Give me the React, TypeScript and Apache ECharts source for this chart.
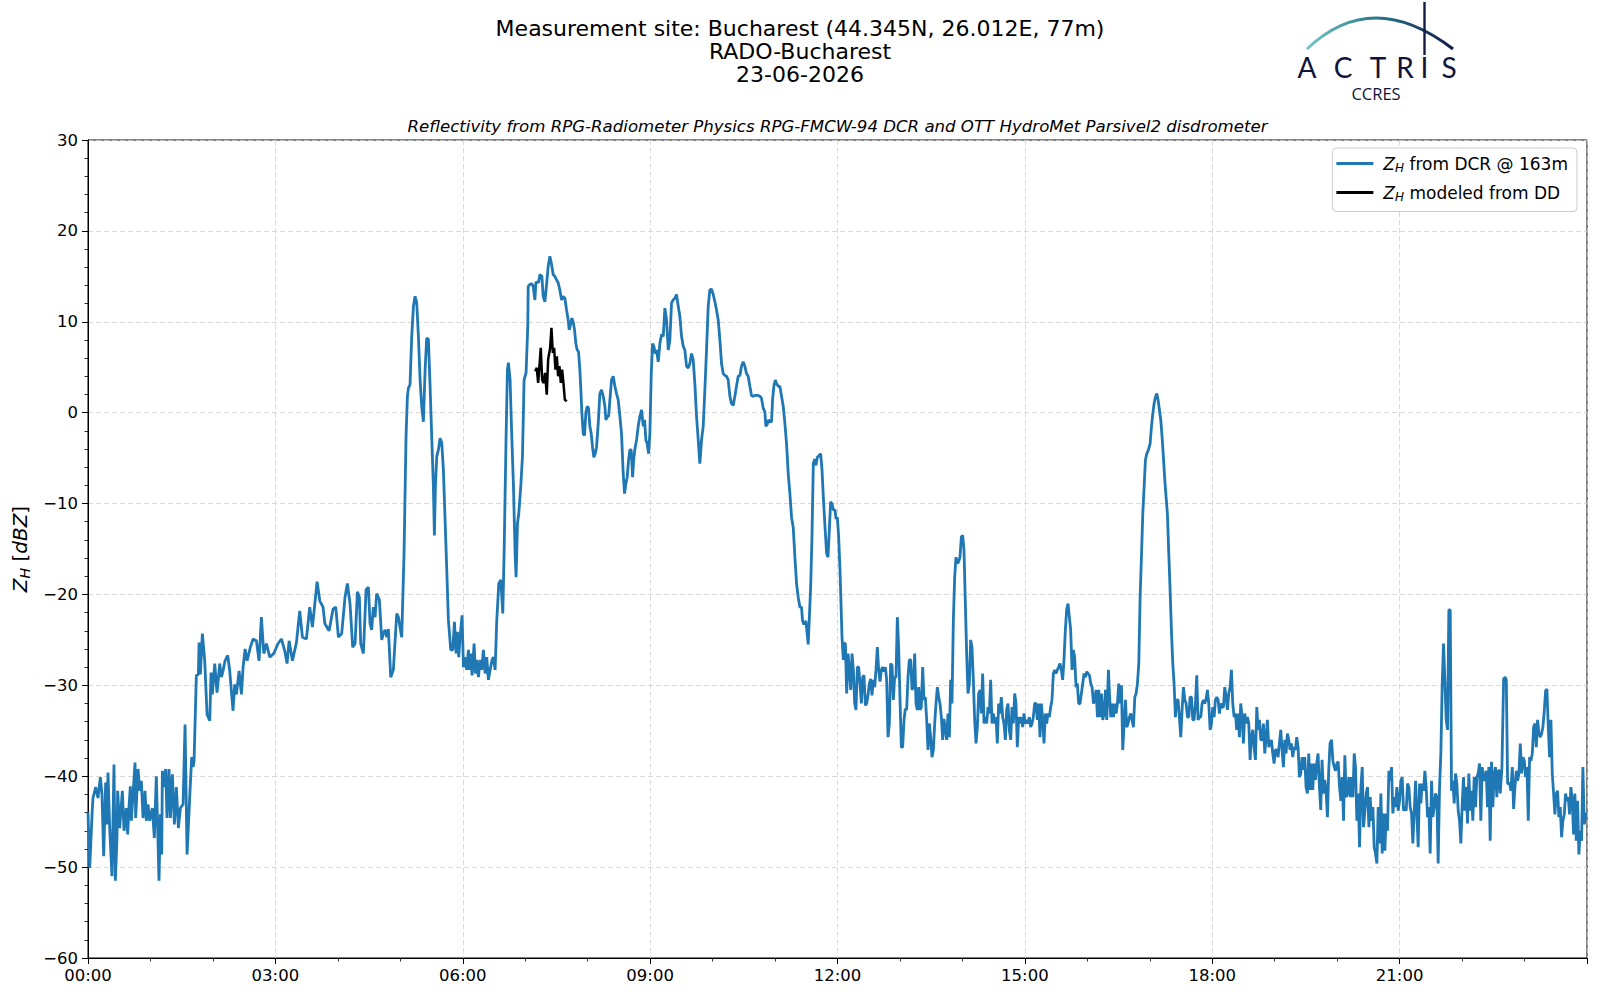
import React, { useEffect, useRef } from "react";
import * as echarts from "echarts";

// ---- Data (time in hours since 00:00, reflectivity in dBZ) ----
const dcrSeries: [number, number][] = [
  [0,-44],[0.027,-50.1],[0.069,-43.6],[0.08,-42.4],[0.123,-41.2],[0.16,-42.4],[0.198,-40.1],[0.224,-42],[0.251,-48.8],[0.283,-40.7],[0.304,-45.3],[0.32,-39.6],[0.347,-45.7],[0.384,-51],[0.416,-38.7],[0.438,-51.5],[0.464,-46.8],[0.475,-41.6],[0.507,-45.7],[0.55,-41.6],[0.577,-46],[0.614,-43.5],[0.635,-46.4],[0.657,-43.3],[0.678,-41.1],[0.694,-44.9],[0.721,-42],[0.753,-38.5],[0.763,-44.6],[0.801,-39.2],[0.828,-41.6],[0.854,-40.5],[0.881,-44.6],[0.913,-41.6],[0.934,-44.9],[0.961,-43.1],[0.988,-44.9],[1.03,-43.5],[1.062,-46.8],[1.094,-40],[1.137,-51.5],[1.159,-44.2],[1.18,-48.6],[1.191,-39.4],[1.217,-41.2],[1.244,-39.2],[1.265,-44.6],[1.297,-39.2],[1.319,-44.6],[1.351,-39.8],[1.383,-45.3],[1.415,-41.2],[1.447,-45.7],[1.479,-43.5],[1.522,-43.1],[1.554,-34.3],[1.586,-48.6],[1.628,-42.4],[1.66,-37.9],[1.682,-39],[1.698,-38.3],[1.735,-28.9],[1.767,-28.8],[1.778,-25.3],[1.799,-28.8],[1.831,-24.3],[1.869,-27.3],[1.906,-33.2],[1.949,-33.9],[1.97,-28.6],[1.991,-31],[2.029,-27.6],[2.066,-30.8],[2.109,-27.6],[2.136,-29.1],[2.162,-28.4],[2.194,-27.3],[2.237,-26.7],[2.269,-28.4],[2.322,-32.8],[2.349,-29.9],[2.376,-31],[2.419,-28.4],[2.456,-31],[2.483,-28],[2.515,-26],[2.547,-27.3],[2.6,-25.8],[2.643,-24.9],[2.696,-25.1],[2.739,-27.3],[2.776,-22.5],[2.814,-26.5],[2.856,-25.4],[2.91,-26.9],[2.974,-26.5],[3.043,-25.4],[3.097,-24.9],[3.15,-26.2],[3.187,-27.6],[3.22,-25.1],[3.273,-27.3],[3.337,-25.3],[3.39,-21.8],[3.433,-24.7],[3.497,-24.9],[3.55,-21.4],[3.593,-23.6],[3.668,-18.6],[3.711,-20.7],[3.764,-21.4],[3.791,-23.2],[3.86,-24],[3.924,-21.6],[3.967,-21.4],
  [4.009,-24.7],[4.062,-24.3],[4.115,-20.3],[4.153,-18.8],[4.195,-21],[4.238,-25.8],[4.276,-25.4],[4.313,-19.7],[4.345,-20.3],[4.366,-25.4],[4.409,-26.5],[4.452,-19.5],[4.489,-19.2],[4.516,-23.2],[4.542,-23.9],[4.569,-21.4],[4.596,-22.5],[4.622,-19.9],[4.665,-20.6],[4.703,-25],[4.729,-24.3],[4.756,-23.9],[4.783,-24.7],[4.809,-23.8],[4.847,-29.1],[4.889,-28.3],[4.943,-22.1],[4.97,-22.5],[5.023,-24.7],[5.06,-15.5],[5.092,-2.6],[5.114,1.8],[5.13,2.7],[5.156,3.1],[5.183,8.4],[5.21,11.7],[5.237,12.8],[5.263,12.1],[5.29,8.4],[5.317,3.6],[5.343,0.7],[5.37,-1],[5.397,4.7],[5.423,8.2],[5.45,8.1],[5.477,2.9],[5.503,-2.6],[5.53,-8.1],[5.546,-13.5],[5.562,-8.1],[5.584,-4.8],[5.61,-4.1],[5.637,-2.8],[5.664,-3.3],[5.69,-6.3],[5.717,-11.8],[5.744,-17.3],[5.77,-22.8],[5.808,-26.1],[5.84,-26.1],[5.867,-23],[5.893,-26.5],[5.915,-24.1],[5.936,-26.9],[5.957,-24.7],[5.989,-22.3],[6.011,-28],[6.037,-26.9],[6.064,-28.3],[6.091,-26.1],[6.107,-28.3],[6.128,-26.5],[6.149,-28.9],[6.182,-25.4],[6.203,-28.7],[6.224,-27.2],[6.251,-29.1],[6.278,-27.2],[6.304,-28.3],[6.331,-26.1],[6.358,-28.7],[6.384,-26.9],[6.411,-29.4],[6.438,-28.3],[6.47,-27.2],[6.491,-26.9],[6.518,-28.3],[6.545,-22.8],[6.577,-18.8],[6.609,-18.4],[6.641,-22.1],[6.662,-15.5],[6.694,-2.6],[6.715,4.7],[6.731,5.5],[6.758,3.6],[6.785,-2.6],[6.812,-8.1],[6.838,-15.5],[6.854,-18.1],[6.876,-12.2],[6.897,-11.1],[6.929,-8.1],[6.956,-4.8],[6.982,3.6],[7.014,4.4],[7.041,9.5],
  [7.048,13.9],[7.075,14.1],[7.101,14.2],[7.128,13.9],[7.155,12.4],[7.171,14.3],[7.192,14.4],[7.213,14.3],[7.235,15.2],[7.267,15],[7.288,12.8],[7.315,12.2],[7.342,14.1],[7.368,16.1],[7.395,17.2],[7.422,16.3],[7.448,15.2],[7.475,15],[7.502,14.6],[7.528,14.3],[7.555,13.5],[7.582,12.4],[7.608,12.8],[7.635,12.6],[7.662,11.3],[7.688,10.2],[7.704,9.1],[7.726,9.7],[7.747,10.4],[7.768,10],[7.79,9.1],[7.811,7.6],[7.832,6.9],[7.854,6.7],[7.875,4.7],[7.891,2.5],[7.907,0],[7.929,-2.3],[7.95,-2.5],[7.971,0],[7.993,0.7],[8.014,0.5],[8.035,-1.5],[8.057,-2.3],[8.078,-3.8],[8.099,-4.9],[8.121,-4.5],[8.142,-3.8],[8.169,-1.2],[8.195,2.1],[8.222,2.5],[8.249,1.8],[8.276,0.7],[8.292,-0.8],[8.313,-0.4],[8.335,-0.4],[8.356,1.4],[8.382,3.6],[8.409,4],[8.436,2.9],[8.462,2.1],[8.489,1.4],[8.516,-0.4],[8.542,-2.3],[8.569,-6.7],[8.591,-8.9],[8.612,-7.8],[8.633,-7.1],[8.655,-5.2],[8.676,-4.1],[8.697,-4.1],[8.719,-7.1],[8.74,-4.9],[8.761,-3.8],[8.783,-3],[8.809,-1.5],[8.836,-0.4],[8.863,0.3],[8.89,-1.5],[8.911,-0.8],[8.932,-3],[8.953,-3.4],[8.975,-4.5],[8.996,-2.3],[9.018,4.3],[9.039,7.6],[9.06,7.3],[9.082,6.5],[9.103,6.9],[9.13,5.6],[9.156,7.6],[9.183,8.6],[9.21,8.4],[9.236,11.5],[9.263,10.2],[9.29,6.9],[9.316,8],[9.343,12.1],[9.37,12.4],[9.396,12.6],[9.423,13],[9.45,11.7],[9.476,10.6],[9.503,8.4],[9.53,7.3],[9.556,6.9],[9.583,5.1],[9.61,4.9],[9.636,5.4],[9.663,6.5],[9.69,5.8],[9.716,3.2],[9.743,-0.4],[9.77,-3],[9.796,-5.6],[9.823,-3],[9.85,-1.5],[9.876,2.5],[9.903,6.9],[9.93,11.7],[9.956,13.5],[9.983,13.6],[10.01,13],[10.037,12.2],[10.063,11.3],[10.09,10.2],[10.117,8],[10.143,5.4],[10.17,4.3],[10.197,4.1],[10.223,4],[10.25,3.6],[10.277,1.8],[10.303,1],[10.33,0.8],[10.357,1.8],[10.383,2.9],[10.41,4],[10.437,4.1],[10.463,5.1],[10.49,5.6],[10.517,5.1],[10.543,4.3],[10.57,4],[10.597,2.9],[10.623,1.9],[10.65,1.8],[10.677,1.9],[10.703,1.9],[10.73,1.9],[10.757,1.8],[10.783,1.6],[10.81,0.5],[10.837,0.1],[10.853,-1.5],[10.874,-1.3],[10.896,-0.8],[10.917,-1],[10.944,-1],[10.96,1.4],[10.981,2.9],[11.003,3.6],[11.024,3.2],[11.051,2.9],[11.077,2.9],[11.104,1.8],[11.131,0.7],[11.158,-1.2],[11.184,-3.4],[11.211,-6.7],[11.238,-8.9],[11.264,-11.5],[11.291,-12.6],[11.318,-15.9],[11.344,-18.8],[11.371,-20.3],[11.398,-21.4],[11.424,-21.4],[11.44,-22.9],[11.462,-23.3],[11.494,-22.9],[11.531,-25.5],
  [11.57,-19.2],[11.591,-13.7],[11.613,-5.6],[11.634,-5.1],[11.655,-5.8],[11.677,-4.9],[11.709,-4.7],[11.73,-4.5],[11.752,-6.3],[11.773,-9.3],[11.8,-12.6],[11.826,-15.5],[11.848,-15.9],[11.869,-12.9],[11.89,-9.8],[11.912,-10],[11.933,-10.7],[11.96,-10.7],[11.976,-11.7],[11.997,-11.5],[12.019,-13.7],[12.04,-17.3],[12.056,-21],[12.072,-24.7],[12.093,-27.2],[12.104,-25.4],[12.126,-25.4],[12.147,-30.9],[12.168,-26.5],[12.19,-28.3],[12.211,-30.5],[12.232,-26.5],[12.254,-28.3],[12.275,-32],[12.296,-32.7],[12.318,-28],[12.339,-28],[12.36,-29.8],[12.382,-32],[12.403,-29.1],[12.424,-28.9],[12.446,-32.2],[12.467,-32],[12.488,-31.1],[12.51,-29.8],[12.531,-29.3],[12.552,-31.1],[12.574,-29.4],[12.595,-30.2],[12.616,-28.3],[12.638,-25.8],[12.659,-28.3],[12.681,-29.6],[12.702,-28.3],[12.723,-28],[12.745,-28.5],[12.766,-28],[12.787,-29.4],[12.809,-35.7],[12.83,-34.2],[12.851,-27.6],[12.873,-27.8],[12.894,-31.6],[12.915,-29.1],[12.937,-29.1],[12.958,-22.5],[12.979,-25.8],[13.001,-31.6],[13.022,-36.8],[13.043,-36.8],[13.065,-33.8],[13.086,-32.6],[13.107,-32.7],[13.129,-29.1],[13.15,-27.2],[13.172,-27.2],[13.193,-30.5],[13.214,-30.2],[13.236,-26.5],[13.257,-32],[13.278,-32.7],[13.3,-30.2],[13.321,-32.7],[13.342,-32.4],[13.364,-28],[13.385,-31.6],[13.406,-31.3],[13.428,-33.8],[13.449,-37.1],[13.471,-34.2],[13.492,-35.7],[13.513,-37.9],[13.535,-37.1],[13.556,-34.2],[13.577,-32],[13.599,-30.2],[13.62,-31.3],[13.641,-32],[13.663,-33.5],[13.684,-36],[13.705,-33.7],[13.727,-34.9],[13.748,-36],[13.769,-33.1],[13.791,-35.7],[13.812,-29.4],[13.833,-32],[13.855,-22.8],[13.876,-18.1],[13.897,-15.9],[13.919,-16.6],[13.94,-16.4],[13.961,-15.9],[13.983,-13.7],[14.004,-13.5],[14.025,-15.1],[14.047,-21],[14.068,-26.5],[14.089,-30.9],[14.111,-29.8],[14.132,-25],[14.153,-25.8],[14.175,-29.4],[14.196,-33.8],[14.218,-36.4],[14.239,-34.6],[14.26,-30.9],[14.282,-30.5],[14.303,-33.1],[14.324,-28.7],[14.346,-34.2],[14.367,-33.5],[14.388,-34.2],[14.41,-32.4],[14.431,-33.1],[14.452,-29.4],[14.474,-34.2],[14.495,-33.1],[14.516,-34.2],[14.538,-33.5],[14.559,-36.4],[14.58,-32],[14.602,-33.1],[14.623,-31.3],[14.644,-33.5],[14.666,-34.2],[14.687,-36],[14.709,-32.7],[14.73,-32],[14.751,-34.9],[14.773,-36],[14.794,-32.4],[14.815,-34.2],[14.837,-30.9],[14.858,-32],[14.879,-36.8],[14.901,-33.5],[14.922,-34.2],[14.943,-33.5],[14.965,-34.6],[14.986,-33.1],[15.007,-34.2],[15.029,-33.8],[15.05,-34.2],[15.071,-33.5],[15.093,-34.6],[15.114,-34.2],[15.135,-33.5],[15.157,-32],[15.178,-32],[15.2,-33.8],[15.221,-32],[15.242,-35.7],[15.264,-32],[15.285,-33.8],[15.306,-36.4],[15.328,-33.1],[15.349,-34.2],[15.37,-33.1],[15.392,-33.5],[15.413,-32.4],[15.434,-31.6],[15.456,-28.7],[15.477,-28.3],[15.498,-28.7],[15.52,-28.3],[15.541,-28],[15.562,-27.6],[15.584,-28.3],[15.605,-29.4],[15.626,-27.2],[15.648,-23.9],[15.669,-21.7],[15.691,-21],[15.712,-22.5],[15.733,-23.9],[15.755,-28.3],[15.776,-26.1],[15.797,-26.9],[15.819,-30.2],[15.84,-29.8],[15.861,-32],[15.883,-32],
  [15.948,-28.7],[15.97,-29.1],[15.991,-28.5],[16.012,-28.7],[16.034,-28.9],[16.055,-29.8],[16.076,-30.2],[16.098,-32],[16.119,-31.6],[16.14,-30.5],[16.162,-33.5],[16.183,-30.5],[16.204,-33.5],[16.226,-30.9],[16.247,-33.8],[16.268,-33.1],[16.29,-30.5],[16.311,-33.8],[16.338,-28.3],[16.354,-30.9],[16.375,-33.5],[16.397,-32],[16.418,-33.5],[16.439,-32],[16.461,-33.1],[16.482,-32],[16.503,-29.8],[16.525,-32],[16.546,-30],[16.567,-37.1],[16.589,-34.2],[16.61,-31.6],[16.631,-34.6],[16.653,-34.2],[16.674,-33.5],[16.696,-33.1],[16.717,-33.8],[16.738,-34.6],[16.76,-31.3],[16.781,-30.9],[16.802,-29.8],[16.824,-27.6],[16.845,-20.3],[16.866,-15.9],[16.888,-11.1],[16.909,-8.2],[16.93,-5.2],[16.952,-4.5],[16.978,-4.1],[17.005,-3.4],[17.026,-1.6],[17.048,-0.1],[17.069,1],[17.09,1.7],[17.112,2.1],[17.133,1.4],[17.154,0.3],[17.176,-0.8],[17.197,-2.7],[17.218,-4.9],[17.24,-7.4],[17.261,-9.3],[17.282,-11.1],[17.304,-15.5],[17.325,-19.5],[17.346,-23.9],[17.368,-27.6],[17.389,-29.8],[17.41,-33.5],[17.432,-31.6],[17.453,-31.6],[17.474,-33.5],[17.496,-35.7],[17.517,-32.7],[17.539,-30.2],[17.56,-31.6],[17.581,-32],[17.603,-33.5],[17.624,-33.5],[17.645,-31.3],[17.667,-31.3],[17.688,-33.8],[17.709,-33.8],[17.731,-32],[17.752,-28.9],[17.773,-33.8],[17.795,-33.5],[17.816,-33.5],[17.837,-32],[17.859,-31.6],[17.88,-32],[17.901,-31.5],[17.923,-30.5],[17.944,-32],[17.966,-34.9],[17.987,-34.2],[18.008,-32.4],[18.03,-33.5],[18.051,-31.6],[18.072,-31.3],[18.094,-31.6],[18.115,-33.1],[18.136,-32],[18.158,-32.4],[18.179,-32.4],[18.2,-30.2],[18.222,-31.3],[18.243,-32.7],[18.264,-30.9],[18.286,-30.2],[18.307,-28.3],[18.328,-32],[18.35,-33.5],[18.371,-33.1],[18.392,-34.9],[18.414,-33.1],[18.435,-35.7],[18.456,-32],[18.478,-33.5],[18.499,-36.4],[18.52,-33.1],[18.542,-34.2],[18.563,-33.5],[18.585,-34.2],[18.606,-38.2],[18.627,-35.7],[18.649,-34.9],[18.67,-36.8],[18.691,-38.2],[18.713,-32.4],[18.734,-34.9],[18.755,-33.8],[18.777,-36],[18.798,-36],[18.819,-34.2],[18.841,-37.5],[18.862,-35.7],[18.883,-33.8],[18.905,-36.8],[18.926,-36.4],[18.947,-36],[18.969,-37.5],[18.99,-38.6],[19.011,-37.1],[19.033,-37.1],[19.054,-37.9],[19.075,-36.4],[19.097,-34.9],[19.118,-37.1],[19.139,-39],[19.161,-36],[19.182,-37.5],[19.203,-35.3],[19.225,-36],[19.246,-37.1],[19.267,-36.4],[19.289,-37.9],[19.31,-36.8],[19.332,-37.1],[19.353,-35.7],[19.374,-36.8],[19.396,-40.1],[19.417,-39.7],[19.438,-37.9],[19.46,-39.3],[19.481,-37.9],[19.502,-41.2],[19.524,-41.9],[19.545,-37.5],[19.566,-41.5],[19.588,-38.6],[19.609,-41.5],[19.63,-38.6],[19.652,-40.4],[19.673,-38.6],[19.694,-37.5],[19.716,-41.2],[19.737,-43.7],[19.758,-38.2],[19.78,-41.9],[19.801,-40.4],[19.822,-41.5],[19.844,-44.5],[19.865,-39.3],[19.886,-36.4],
  [19.91,-36],[19.931,-38.3],[19.953,-39],[19.974,-39.4],[19.995,-38.6],[20.017,-38.4],[20.038,-41.2],[20.059,-42.7],[20.081,-40.1],[20.102,-44.9],[20.123,-37.7],[20.145,-42.3],[20.166,-41.9],[20.187,-40.1],[20.209,-42.3],[20.23,-40.1],[20.251,-42.3],[20.273,-37.5],[20.294,-39],[20.315,-44.9],[20.337,-41.9],[20.358,-47.8],[20.38,-41.2],[20.401,-39],[20.422,-45.6],[20.444,-43.8],[20.465,-41.9],[20.486,-41.2],[20.508,-45.6],[20.529,-42.3],[20.55,-44.9],[20.572,-43.4],[20.593,-47.8],[20.614,-48.5],[20.636,-49.6],[20.657,-43.4],[20.678,-47.4],[20.7,-41.9],[20.721,-48.5],[20.742,-44.1],[20.764,-48.2],[20.785,-44.1],[20.806,-46],[20.828,-39.4],[20.849,-40.5],[20.87,-39],[20.892,-44.1],[20.913,-42.3],[20.934,-43.4],[20.956,-41.2],[20.977,-43.8],[20.999,-42.7],[21.02,-40.5],[21.041,-40.1],[21.063,-43.8],[21.084,-43.4],[21.105,-43.8],[21.127,-40.8],[21.148,-41.2],[21.169,-43.4],[21.191,-44.1],[21.212,-47.4],[21.233,-44.1],[21.255,-40.5],[21.276,-44.1],[21.297,-47.8],[21.319,-40.8],[21.34,-43],[21.361,-40.8],[21.383,-41.6],[21.404,-39.4],[21.425,-41.2],[21.447,-44.5],[21.468,-43.4],[21.489,-48.5],[21.511,-40.5],[21.532,-44.5],[21.553,-43.4],[21.575,-41.9],[21.596,-42.3],[21.617,-49.6],[21.639,-41.2],[21.66,-37.5],[21.682,-29.8],[21.703,-25.4],[21.724,-29.4],[21.746,-33.8],[21.767,-34.9],[21.788,-21.7],[21.81,-21.7],[21.82,-31.3],[21.831,-41.6],[21.852,-40.5],[21.874,-43],[21.895,-39.7],[21.916,-40.8],[21.938,-43.8],[21.959,-44.9],[21.98,-47.4],[22.002,-43],[22.023,-40.1],[22.044,-43.8],[22.066,-41.2],[22.087,-45.2],[22.108,-39.7],[22.13,-43.8],[22.151,-41.6],[22.172,-44.9],[22.194,-40.1],[22.215,-43.4],[22.236,-40.1],[22.258,-39.7],[22.279,-38.6],[22.3,-44.9],[22.322,-39],[22.343,-40.1],[22.364,-40.5],[22.386,-39.4],[22.407,-43.4],[22.428,-39],[22.45,-47.1],[22.471,-38.4],[22.492,-43.4],[22.514,-39.7],[22.535,-39],[22.556,-42.3],[22.578,-39.4],[22.599,-39.4],
  [22.611,-41.9],[22.638,-39],[22.665,-29.3],[22.692,-29.1],[22.708,-29.4],[22.729,-40.8],[22.761,-40.8],[22.782,-41.6],[22.804,-39],[22.825,-43.6],[22.846,-41.2],[22.868,-39.4],[22.889,-40.5],[22.91,-39.7],[22.932,-36.4],[22.953,-39.7],[22.974,-37.9],[22.996,-38.3],[23.017,-40.1],[23.038,-39],[23.06,-44.9],[23.081,-37.9],[23.102,-38.3],[23.124,-37.5],[23.145,-34.6],[23.166,-34.2],[23.188,-36.8],[23.209,-33.8],[23.23,-35.3],[23.252,-35.7],[23.273,-35.3],[23.294,-34.6],[23.316,-32.8],[23.337,-30.6],[23.358,-30.4],[23.38,-34.6],[23.401,-37.9],[23.422,-33.8],[23.444,-39.7],[23.465,-41.9],[23.486,-44.2],[23.508,-41.9],[23.529,-41.6],[23.55,-44.5],[23.572,-43.4],[23.593,-46.7],[23.614,-44.9],[23.636,-44.2],[23.657,-41.9],[23.678,-42.7],[23.7,-42.3],[23.721,-44.2],[23.742,-41.2],[23.764,-42.7],[23.785,-46.4],[23.806,-41.9],[23.828,-47.1],[23.849,-42.7],[23.87,-48.6],[23.892,-46],[23.913,-47.1],[23.934,-39],[23.956,-45.3],[23.985,-44]
];

const ddSeries: [number, number][] = [
  [7.159,4.56],[7.185,4.93],[7.207,3.27],[7.228,5.11],[7.249,7.13],[7.271,3.64],[7.292,3.27],[7.319,4.38],[7.345,1.99],[7.367,5.85],[7.399,7.13],[7.42,9.34],[7.442,6.58],[7.463,7.13],[7.484,4.74],[7.506,6.21],[7.527,4.01],[7.548,5.11],[7.57,3.27],[7.591,4.74],[7.612,3.27],[7.634,1.43],[7.666,1.25]
];

const titleLines = [
  "Measurement site: Bucharest (44.345N, 26.012E, 77m)",
  "RADO-Bucharest",
  "23-06-2026",
];
const subTitle =
  "Reflectivity from RPG-Radiometer Physics RPG-FMCW-94 DCR and OTT HydroMet Parsivel2 disdrometer";
const legendLabels: Record<string, string> = {
  dcr: "{i|Z}{s|H}{t| from DCR @ 163m}",
  dd: "{i|Z}{s|H}{t| modeled from DD}",
};
const logoLetters = ["A", "C", "T", "R", "I", "S"];
const logoLetterX = [1307, 1343, 1378, 1405, 1424.5, 1449];

const FONT = "DejaVu Sans";

export default function App() {
  const ref = useRef<HTMLDivElement>(null);

  useEffect(() => {
    if (!ref.current) return;
    const chart = echarts.init(ref.current, undefined, { renderer: "svg" });

    const richText = {
      i: { fontFamily: FONT, fontStyle: "italic", fontSize: 17, lineHeight: 20, color: "#000" },
      s: { fontFamily: FONT, fontStyle: "italic", fontSize: 12, lineHeight: 12, verticalAlign: "bottom", color: "#000" },
      t: { fontFamily: FONT, fontSize: 17, lineHeight: 20, color: "#000" },
    };

    const graphics: any[] = [];
    titleLines.forEach((t, k) => {
      graphics.push({
        type: "text",
        x: 800,
        y: 28.5 + k * 23,
        style: { text: t, font: `22px '${FONT}'`, fill: "#000", align: "center", verticalAlign: "middle" },
      });
    });
    graphics.push({
      type: "text",
      x: 837.5,
      y: 126,
      style: { text: subTitle, font: `italic 16.6px '${FONT}'`, fill: "#000", align: "center", verticalAlign: "middle" },
    });
    // logo
    graphics.push({
      type: "bezierCurve",
      shape: { x1: 1307, y1: 49, x2: 1453, y2: 49, cpx1: 1372, cpy1: -13 },
      style: {
        fill: null,
        lineWidth: 3,
        stroke: new echarts.graphic.LinearGradient(0, 0, 1, 0, [
          { offset: 0, color: "#72c6c2" },
          { offset: 0.45, color: "#2b7c8e" },
          { offset: 1, color: "#141a46" },
        ]),
      },
    });
    graphics.push({
      type: "line",
      shape: { x1: 1424.5, y1: 2, x2: 1424.5, y2: 55 },
      style: { lineWidth: 2.4, stroke: "#141a46" },
    });
    logoLetters.forEach((l, k) => {
      graphics.push({
        type: "text",
        x: logoLetterX[k],
        y: 67,
        style: { text: l, font: `28px Lato`, fill: "#10133a", align: "center", verticalAlign: "middle" },
      });
    });
    graphics.push({
      type: "text",
      x: 1376,
      y: 93,
      style: { text: "CCRES", font: `16.5px 'Open Sans'`, fill: "#10133a", align: "center", verticalAlign: "middle" },
    });

    chart.setOption({
      animation: false,
      backgroundColor: "#fff",
      textStyle: { fontFamily: FONT },
      grid: {
        left: 88,
        top: 140,
        width: 1499,
        height: 818,
        show: true,
        borderColor: "#000",
        borderWidth: 1,
        backgroundColor: "transparent",
        containLabel: false,
      },
      xAxis: {
        type: "value",
        min: 0,
        max: 24,
        interval: 3,
        axisLine: { show: true, onZero: false, lineStyle: { color: "#000", width: 1 } },
        axisTick: { show: true, inside: false, length: 6, lineStyle: { color: "#000", width: 1 } },
        minorTick: { show: true, splitNumber: 3, length: 3.5, lineStyle: { color: "#000", width: 0.8 } },
        axisLabel: {
          show: true,
          showMaxLabel: false,
          margin: 9,
          fontFamily: FONT,
          fontSize: 16.5,
          color: "#000",
          formatter: (v: number) => `${String(v).padStart(2, "0")}:00`,
        },
        splitLine: { show: true, lineStyle: { color: "#cfcfcf", width: 0.8, type: [5, 3] } },
      },
      yAxis: {
        type: "value",
        min: -60,
        max: 30,
        interval: 10,
        name: "{i|Z}{s|H}{t| [}{i|dBZ}{t|]}",
        nameLocation: "middle",
        nameRotate: 90,
        nameGap: 51,
        nameTextStyle: {
          rich: {
            i: { fontFamily: FONT, fontStyle: "italic", fontSize: 20, lineHeight: 24, color: "#000" },
            s: { fontFamily: FONT, fontStyle: "italic", fontSize: 14, lineHeight: 14, verticalAlign: "bottom", color: "#000" },
            t: { fontFamily: FONT, fontSize: 20, lineHeight: 24, color: "#000" },
          },
        },
        axisLine: { show: true, onZero: false, lineStyle: { color: "#000", width: 1 } },
        axisTick: { show: true, inside: false, length: 6, lineStyle: { color: "#000", width: 1 } },
        minorTick: { show: true, splitNumber: 5, length: 3.5, lineStyle: { color: "#000", width: 0.8 } },
        axisLabel: {
          margin: 10,
          fontFamily: FONT,
          fontSize: 16.5,
          color: "#000",
          formatter: (v: number) => (v < 0 ? `\u2212${Math.abs(v)}` : `${v}`),
        },
        splitLine: { show: true, lineStyle: { color: "#cfcfcf", width: 0.8, type: [5, 3] } },
      },
      legend: {
        orient: "vertical",
        right: 23,
        top: 148,
        padding: [7, 9, 9, 4],
        itemGap: 10.5,
        itemWidth: 37,
        itemHeight: 2.8,
        icon: "rect",
        backgroundColor: "#fff",
        borderColor: "#cccccc",
        borderWidth: 1,
        borderRadius: 4,
        data: ["dcr", "dd"],
        formatter: (name: string) => legendLabels[name],
        textStyle: { fontFamily: FONT, fontSize: 17, color: "#000", padding: [0, 0, 0, 5], rich: richText },
      },
      series: [
        {
          name: "dcr",
          type: "line",
          data: dcrSeries,
          showSymbol: false,
          symbol: "none",
          color: "#1f77b4",
          lineStyle: { color: "#1f77b4", width: 2.8 },
          z: 2,
        },
        {
          name: "dd",
          type: "line",
          data: ddSeries,
          showSymbol: false,
          symbol: "none",
          color: "#000000",
          lineStyle: { color: "#000000", width: 2.5 },
          z: 3,
        },
      ],
      graphic: graphics,
    });

    return () => chart.dispose();
  }, []);

  return (
    <div
      ref={ref}
      style={{ position: "fixed", left: 0, top: 0, width: 1600, height: 1000, background: "#fff" }}
    />
  );
}
